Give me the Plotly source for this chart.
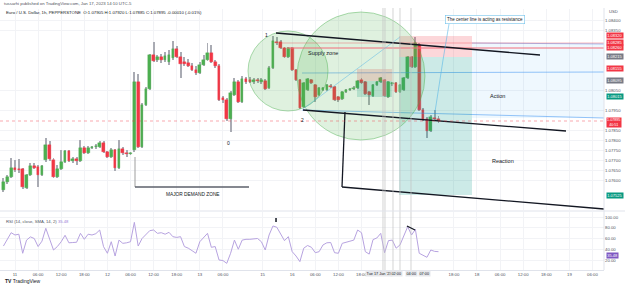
import plotly.graph_objects as go

# ---------------- data ----------------
bar_index = list(range(-3, 111))  # hourly bars, 0 = 11 Jan 00:00 (UTC-5), weekend removed

open_ = [1.0755, 1.0759, 1.07615, 1.0766, 1.07655, 1.07655, 1.0756, 1.07625, 1.0767, 1.07665,
         1.07625, 1.0770, 1.07775, 1.0770, 1.07615, 1.07655, 1.0769, 1.07745, 1.07695, 1.07705,
         1.07695, 1.0776, 1.07735, 1.0776, 1.07765, 1.07765, 1.07785, 1.0774, 1.07715, 1.0775,
         1.0766, 1.07755, 1.07735, 1.0773, 1.0775, 1.0809, 1.07765, 1.07975, 1.08055, 1.08225,
         1.0820, 1.08215, 1.0820, 1.0819, 1.0821, 1.08255, 1.08215, 1.0819, 1.08185, 1.0817,
         1.0815, 1.08135, 1.08175, 1.0820, 1.08235, 1.0819, 1.0817, 1.0801, 1.0800, 1.07905,
         1.08025, 1.0809, 1.0799, 1.08105, 1.0810, 1.0809, 1.0810, 1.0809, 1.08095, 1.0806,
         1.0816, 1.0829, 1.0829, 1.0826, 1.08215, 1.0826, 1.0815, 1.0810, 1.07965, 1.0805,
         1.0810, 1.08075, 1.08025, 1.0805, 1.0805, 1.0807, 1.08065, 1.08015, 1.08005, 1.0804,
         1.0805, 1.08055, 1.0806, 1.0810, 1.0809, 1.0804, 1.0802, 1.08075, 1.0809, 1.0810,
         1.08015, 1.0808, 1.08085, 1.0804, 1.0805, 1.0811, 1.08215, 1.08165, 1.08275, 1.0795,
         1.07905, 1.07845, 1.0791, 1.07905]
high = [1.0761, 1.07625, 1.0771, 1.0770, 1.07705, 1.0766, 1.0763, 1.07685, 1.07685, 1.07675,
        1.07675, 1.0781, 1.07795, 1.0771, 1.07675, 1.0775, 1.0775, 1.0775, 1.07715, 1.07715,
        1.0780, 1.0777, 1.0777, 1.0777, 1.0778, 1.07795, 1.07795, 1.07745, 1.0776, 1.07755,
        1.0780, 1.07765, 1.0775, 1.0774, 1.0814, 1.0813, 1.07985, 1.08065, 1.0823, 1.0829,
        1.08225, 1.0823, 1.0824, 1.0825, 1.08295, 1.0827, 1.0824, 1.08215, 1.08205, 1.08185,
        1.0817, 1.0819, 1.08225, 1.08285, 1.08275, 1.0820, 1.0818, 1.0802, 1.0801, 1.08045,
        1.0811, 1.0810, 1.0812, 1.08115, 1.08115, 1.0811, 1.0811, 1.0811, 1.08105, 1.0817,
        1.0832, 1.08315, 1.0830, 1.08265, 1.08265, 1.08265, 1.08155, 1.08105, 1.0809, 1.0811,
        1.08105, 1.0808, 1.08065, 1.08065, 1.0808, 1.0808, 1.0807, 1.0802, 1.08045, 1.08055,
        1.0806, 1.0807, 1.0810, 1.0811, 1.08095, 1.08045, 1.0808, 1.08095, 1.08115, 1.08105,
        1.08095, 1.0809, 1.0809, 1.0808, 1.08115, 1.0822, 1.0822, 1.08315, 1.08285, 1.0796,
        1.07915, 1.07925, 1.0795, 1.0792]
low = [1.0754, 1.0758, 1.0761, 1.0764, 1.07635, 1.07555, 1.07555, 1.0762, 1.07655, 1.07565,
       1.0762, 1.0769, 1.07695, 1.0761, 1.0761, 1.0765, 1.07685, 1.0769, 1.07685, 1.07675,
       1.0769, 1.0773, 1.0773, 1.07755, 1.07755, 1.0776, 1.07735, 1.0771, 1.0771, 1.07645,
       1.07655, 1.07725, 1.07715, 1.07725, 1.0774, 1.0776, 1.0776, 1.0797, 1.0805, 1.0819,
       1.0819, 1.08185, 1.0819, 1.08175, 1.0820, 1.0821, 1.0811, 1.0817, 1.08165, 1.08145,
       1.08125, 1.0813, 1.0817, 1.08195, 1.08185, 1.0816, 1.07995, 1.07985, 1.07895, 1.0784,
       1.0802, 1.07985, 1.07985, 1.0808, 1.08085, 1.0808, 1.08085, 1.0808, 1.0805, 1.08055,
       1.08155, 1.08275, 1.08255, 1.0821, 1.0821, 1.08145, 1.08095, 1.07955, 1.0796, 1.08045,
       1.0808, 1.0799, 1.0802, 1.08045, 1.08045, 1.0806, 1.07995, 1.0799, 1.0800, 1.08035,
       1.08045, 1.0805, 1.08055, 1.0808, 1.08025, 1.07975, 1.08015, 1.0807, 1.08085, 1.08015,
       1.0801, 1.0807, 1.08035, 1.08035, 1.08045, 1.08105, 1.0816, 1.0816, 1.07945, 1.07895,
       1.0781, 1.0784, 1.0790, 1.07885]
close = [1.0759, 1.07615, 1.0766, 1.0765, 1.0765, 1.07565, 1.07625, 1.0767, 1.0766, 1.07625,
         1.0767, 1.07775, 1.07705, 1.07615, 1.07655, 1.0769, 1.07745, 1.07695, 1.07705, 1.07695,
         1.0776, 1.07735, 1.0776, 1.07765, 1.0777, 1.07785, 1.0774, 1.07715, 1.0775, 1.0766,
         1.07755, 1.07735, 1.0773, 1.07735, 1.0809, 1.07765, 1.07975, 1.08055, 1.08225, 1.08195,
         1.08215, 1.0820, 1.0822, 1.08225, 1.08255, 1.08215, 1.0818, 1.0818, 1.0817, 1.0815,
         1.08135, 1.08175, 1.0820, 1.08235, 1.0819, 1.0817, 1.0800, 1.0800, 1.07905, 1.08035,
         1.0809, 1.0799, 1.08105, 1.0809, 1.0809, 1.0810, 1.08095, 1.0810, 1.08055, 1.0816,
         1.08295, 1.08285, 1.0826, 1.08215, 1.0826, 1.0815, 1.0810, 1.0796, 1.08085, 1.08105,
         1.08085, 1.08015, 1.0806, 1.0806, 1.08075, 1.08065, 1.0800, 1.0800, 1.0804, 1.0805,
         1.08055, 1.0806, 1.08095, 1.08085, 1.0803, 1.08025, 1.08075, 1.0809, 1.0811, 1.0802,
         1.0809, 1.08085, 1.0804, 1.08075, 1.0811, 1.08215, 1.08165, 1.08285, 1.0795, 1.0790,
         1.07845, 1.07915, 1.07905, 1.07895]
rsi = [46, 58, 70.8, 66.5, 68, 32.5, 57, 63, 60, 45, 55, 79, 60, 38.6, 45, 54, 66, 52, 52.5, 53,
       69.6, 58.5, 68, 66.5, 69, 75.8, 44.8, 32.5, 54, 27.4, 57, 51, 52, 54, 90, 46, 60, 68, 74.6,
       75.8, 69.6, 70.8, 68, 71.5, 63.4, 62, 63.4, 45, 42, 37.3, 32.5, 54, 62, 69.6, 43.6, 45, 20,
       19, 13.8, 32.5, 57, 40, 57, 58.5, 58.5, 59.7, 60, 54, 38.6, 66.5, 83.3, 81, 69.6, 56, 63.4,
       35.5, 27.4, 17, 42, 47, 43.6, 33.6, 35.5, 48, 52, 52.5, 33.6, 32.5, 51, 52.5, 55, 57, 75.8,
       70.8, 35.5, 31, 58, 61, 69.6, 33.6, 56, 57, 42, 48, 65, 82, 66.5, 77, 32.5, 29.5, 25, 38.6,
       36, 35.48]

time_tick_index = [0, 6, 12, 18, 24, 30, 36, 42, 48, 54, 64.3, 72, 78, 84, 90, 114, 120, 126, 132, 138, 144, 150]
time_tick_text = ["11", "06:00", "12:00", "18:00", "12", "06:00", "12:00", "18:00", "13", "06:00", "15",
                  "16", "06:00", "12:00", "18:00", "18:00", "18", "06:00", "12:00", "18:00", "19", "06:00"]
# regular price-scale ticks (those hidden behind coloured labels are left out, as on TradingView)
price_ticks = [1.0760, 1.0765, 1.0770, 1.0775, 1.0780, 1.0785, 1.0795, 1.0805, 1.0835, 1.0840]
rsi_ticks = [20, 40, 60, 80, 100]

# coloured price-scale labels: (price, colour)
level_prices = [1.0832, 1.08285, 1.0826, 1.08215, 1.08155, 1.08095, 1.08015, 1.07525]
level_colors = ["#f23645", "#f23645", "#f23645", "#787b86", "#f23645", "#787b86", "#089981", "#089981"]

# ---------------- styling ----------------
W, H = 625, 287
UP, DOWN, WICK = "#4caf50", "#f23645", "#a9abb3"
FONT = "Liberation Sans, Arial, sans-serif"
XR = 604 / W

def py(px):
    return 1 - px / H

body_base = [min(o, c) for o, c in zip(open_, close)]
body_h = [max(abs(c - o), 0.00002) for o, c in zip(open_, close)]
body_col = [UP if c >= o else DOWN for o, c in zip(open_, close)]

fig = go.Figure()
fig.add_trace(go.Bar(x=bar_index, base=low, y=[h - l for h, l in zip(high, low)], width=0.25,
                     marker=dict(color=WICK, line=dict(width=0)), hoverinfo="skip"))
fig.add_trace(go.Bar(x=bar_index, base=body_base, y=body_h, width=0.7,
                     marker=dict(color=body_col, line=dict(width=0.4, color=body_col)), hoverinfo="skip"))
fig.add_trace(go.Scatter(x=bar_index, y=rsi, mode="lines", line=dict(color="#b7a3e0", width=1),
                         xaxis="x2", yaxis="y2", hoverinfo="skip"))
# economic event icons
fig.add_trace(go.Scatter(x=[109.87, 126.75, 150.65], y=[1.07433] * 3, mode="markers", cliponaxis=False,
                         marker=dict(size=6, color=["#ffffff", "#f8b4c0", "#f8b4c0"],
                                     line=dict(width=1, color=["#9c7fd6", "#e57373", "#e57373"])),
                         hoverinfo="skip"))

shapes = []
def add_line(x0, y0, x1, y1, color, width=1, dash="solid", yref="y", xref="x"):
    shapes.append(dict(type="line", xref=xref, yref=yref, x0=x0, y0=y0, x1=x1, y1=y1,
                       line=dict(color=color, width=width, dash=dash), layer="above"))
def add_rect(x0, y0, x1, y1, fill, color="rgba(0,0,0,0)", width=0):
    shapes.append(dict(type="rect", xref="x", yref="y", x0=x0, y0=y0, x1=x1, y1=y1,
                       fillcolor=fill, line=dict(color=color, width=width), layer="above"))

# light blue "Action" area
add_rect(118.70, 1.0791, 152.99, 1.08285, "rgba(33,150,243,0.07)")
add_line(118.70, 1.08285, 152.99, 1.0828, "rgba(120,150,230,0.6)", 1)
add_line(74.55, 1.08135, 152.99, 1.0814, "rgba(66,150,243,0.55)", 1)
add_line(74.55, 1.0795, 152.99, 1.0791, "rgba(66,150,243,0.55)", 1)
# position tools
add_rect(99.74, 1.08215, 118.70, 1.0832, "rgba(242,54,69,0.2)")
add_rect(99.74, 1.07525, 118.70, 1.08215, "rgba(0,150,136,0.2)")
add_rect(88.83, 1.08095, 97.92, 1.08155, "rgba(242,54,69,0.2)")
add_rect(88.83, 1.08015, 97.92, 1.08095, "rgba(0,150,136,0.2)")
# circles
shapes.append(dict(type="circle", xref="x", yref="y", x0=60.52, y0=1.07945, x1=81.30, y1=1.08345,
                   fillcolor="rgba(76,175,80,0.18)", line=dict(color="rgba(76,175,80,0.45)", width=1), layer="above"))
shapes.append(dict(type="circle", xref="x", yref="y", x0=73.25, y0=1.0780, x1=106.49, y1=1.0844,
                   fillcolor="rgba(76,175,80,0.18)", line=dict(color="rgba(76,175,80,0.45)", width=1), layer="above"))
# supply lines
add_line(68.83, 1.08285, 152.99, 1.08285, "rgba(242,54,69,0.35)", 1)
add_line(70.65, 1.0826, 152.99, 1.0826, "#f26d7a", 1)
# thin cyan diagonal
add_line(74.81, 1.07955, 100.0, 1.08315, "rgba(80,180,230,0.6)", 0.8)
# channel lines
add_line(67.79, 1.08335, 136.36, 1.08225, "#131722", 1.3)
add_line(74.81, 1.0795, 143.12, 1.07845, "#131722", 1.3)
add_line(85.71, 1.0794, 84.94, 1.07565, "#131722", 1.3)
add_line(84.94, 1.07565, 152.99, 1.07455, "#131722", 1.3)
# demand zone bracket
add_line(31.17, 1.07715, 31.17, 1.07565, "#9e9e9e", 1)
add_line(31.17, 1.07565, 60.78, 1.07565, "#5d606b", 1.5)
# callout pointer
shapes.append(dict(type="path", xref="x", yref="y",
                   path="M 112.73 1.0838 L 111.17 1.0820 L 109.09 1.0794",
                   line=dict(color="rgba(80,180,230,0.7)", width=0.8), layer="above"))
# current price line
add_line(0, close[-1], XR, close[-1], "rgba(242,54,69,0.55)", 0.8, "dot", xref="paper")
# user vertical lines
for vx in [95.58, 96.10, 98.18, 100.0, 102.86]:
    add_line(vx, py(270), vx, py(8), "rgba(195,195,195,0.55)", 1.3, yref="paper")
# RSI marks
add_line(67.8, 90.7, 67.8, 98.1, "#131722", 1.5, yref="y2", xref="x2")
add_line(101.8, 83.3, 103.9, 75.8, "#131722", 1.3, yref="y2", xref="x2")
# pane separator
add_line(0, py(211), 1, py(211), "#e0e3eb", 1, xref="paper", yref="paper")
add_line(XR, py(8), XR, py(270), "#e0e3eb", 1, xref="paper", yref="paper")

ann = []
def text(x, y, s, size=5, color="#131722", xanchor="center", yanchor="middle", xref="x", yref="y", **kw):
    ann.append(dict(x=x, y=y, xref=xref, yref=yref, text=s, showarrow=False, xanchor=xanchor, yanchor=yanchor,
                    font=dict(size=size, color=color, family=FONT), **kw))

text(65.45, 1.08325, "1", 5)
text(74.55, 1.0790, "2", 5)
text(55.58, 1.07785, "0", 5)
text(80.0, 1.08235, "Supply zone", 5.5)
text(46.23, 1.0753, "MAJOR DEMAND ZONE", 4.8)
text(125.2, 1.0802, "Action", 5.5)
text(126.75, 1.07695, "Reaction", 5.5)
text(121.95, 1.0840, "The center line is acting as resistance", 4.5, bgcolor="#ffffff",
     bordercolor="rgba(80,180,230,0.8)", borderwidth=0.6, borderpad=1.5)

# header & legends
text(2 / W, py(3.5), "tussarhi published on TradingView.com, Jan 17, 2023 14:10 UTC-5", 4.3, "#50535e",
     xanchor="left", xref="paper", yref="paper")
text(4 / W, py(12.5),
     "Euro / U.S. Dollar, 1h, PEPPERSTONE  O:%.5f H:%.5f L:%.5f C:%.5f %+.5f (%+.2f%%)" % (
         open_[-1], high[-1], low[-1], close[-1], close[-1] - close[-2], (close[-1] - close[-2]) / close[-2] * 100),
     4.3, "#131722", xanchor="left", xref="paper", yref="paper")
text(4 / W, py(221), "RSI (14, close, SMA, 14, 2) <span style='color:#9c7fd6'>%.2f</span>" % rsi[-1], 4.2, "#50535e",
     xanchor="left", xref="paper", yref="paper")
text(3 / W, py(281), "<b>TV</b> TradingView", 5, "#131722", xanchor="left", xref="paper", yref="paper")
text(607 / W, py(11), "USD", 4.2, "#50535e", xanchor="left", xref="paper", yref="paper")

# price axis labels
for lp, lc in zip(level_prices, level_colors):
    ann.append(dict(x=605.5 / W, y=lp, xref="paper", yref="y", text="%.5f" % lp, showarrow=False,
                    xanchor="left", yanchor="middle", bgcolor=lc, borderpad=0.2,
                    font=dict(size=4.0, color="#ffffff", family=FONT)))
ann.append(dict(x=605.5 / W, y=close[-1] + 0.0002, xref="paper", yref="y", text="%.5f<br>40:51" % close[-1],
                showarrow=False, xanchor="left", yanchor="top", bgcolor="#f23645", borderpad=0.1,
                font=dict(size=3.7, color="#ffffff", family=FONT)))
ann.append(dict(x=605.5 / W, y=rsi[-1] - 1.2, xref="paper", yref="y2", text="%.2f" % rsi[-1], showarrow=False,
                xanchor="left", yanchor="top", bgcolor="#7e57c2", borderpad=0.2,
                font=dict(size=4.0, color="#ffffff", family=FONT)))
# time axis labels of the user verticals
for xi, s in [(94.5, "Tue 17 Jan '23"), (99.1, "02:00"), (102.9, "04:00"), (106.3, "07:00")]:
    ann.append(dict(x=xi, y=py(273), xref="x2", yref="paper", text=s, showarrow=False,
                    xanchor="center", yanchor="middle", bgcolor="#e6e7eb", borderpad=0.5,
                    font=dict(size=3.8, color="#131722", family=FONT)))

axis_font = dict(size=4.3, color="#50535e", family=FONT)
fig.update_layout(
    width=W, height=H, margin=dict(l=0, r=0, t=0, b=0),
    paper_bgcolor="#ffffff", plot_bgcolor="#ffffff",
    showlegend=False, barmode="overlay", bargap=0,
    shapes=shapes, annotations=ann,
    xaxis=dict(domain=[0, XR], range=[-3.896, 152.99], anchor="y", tickvals=time_tick_index,
               showticklabels=False, showgrid=True, gridcolor="#f2f3f6", zeroline=False, fixedrange=True),
    xaxis2=dict(domain=[0, XR], range=[-3.896, 152.99], anchor="y2", matches="x", tickvals=time_tick_index,
                ticktext=time_tick_text, tickfont=axis_font, ticks="", ticklen=0,
                showgrid=True, gridcolor="#f2f3f6", zeroline=False, showline=True, linecolor="#e0e3eb", linewidth=1),
    yaxis=dict(domain=[py(210), py(9)], range=[1.0745, 1.08455], anchor="x", side="right", tickvals=price_ticks,
               tickformat=".5f", tickfont=axis_font, showgrid=True, gridcolor="#f2f3f6", zeroline=False, ticklen=0),
    yaxis2=dict(domain=[py(270), py(212)], range=[1.4, 109.3], anchor="x2", side="right", tickvals=rsi_ticks,
                tickformat=".2f", tickfont=axis_font, showgrid=True, gridcolor="#f2f3f6", zeroline=False, ticklen=0),
)
fig.write_html("out.html")
